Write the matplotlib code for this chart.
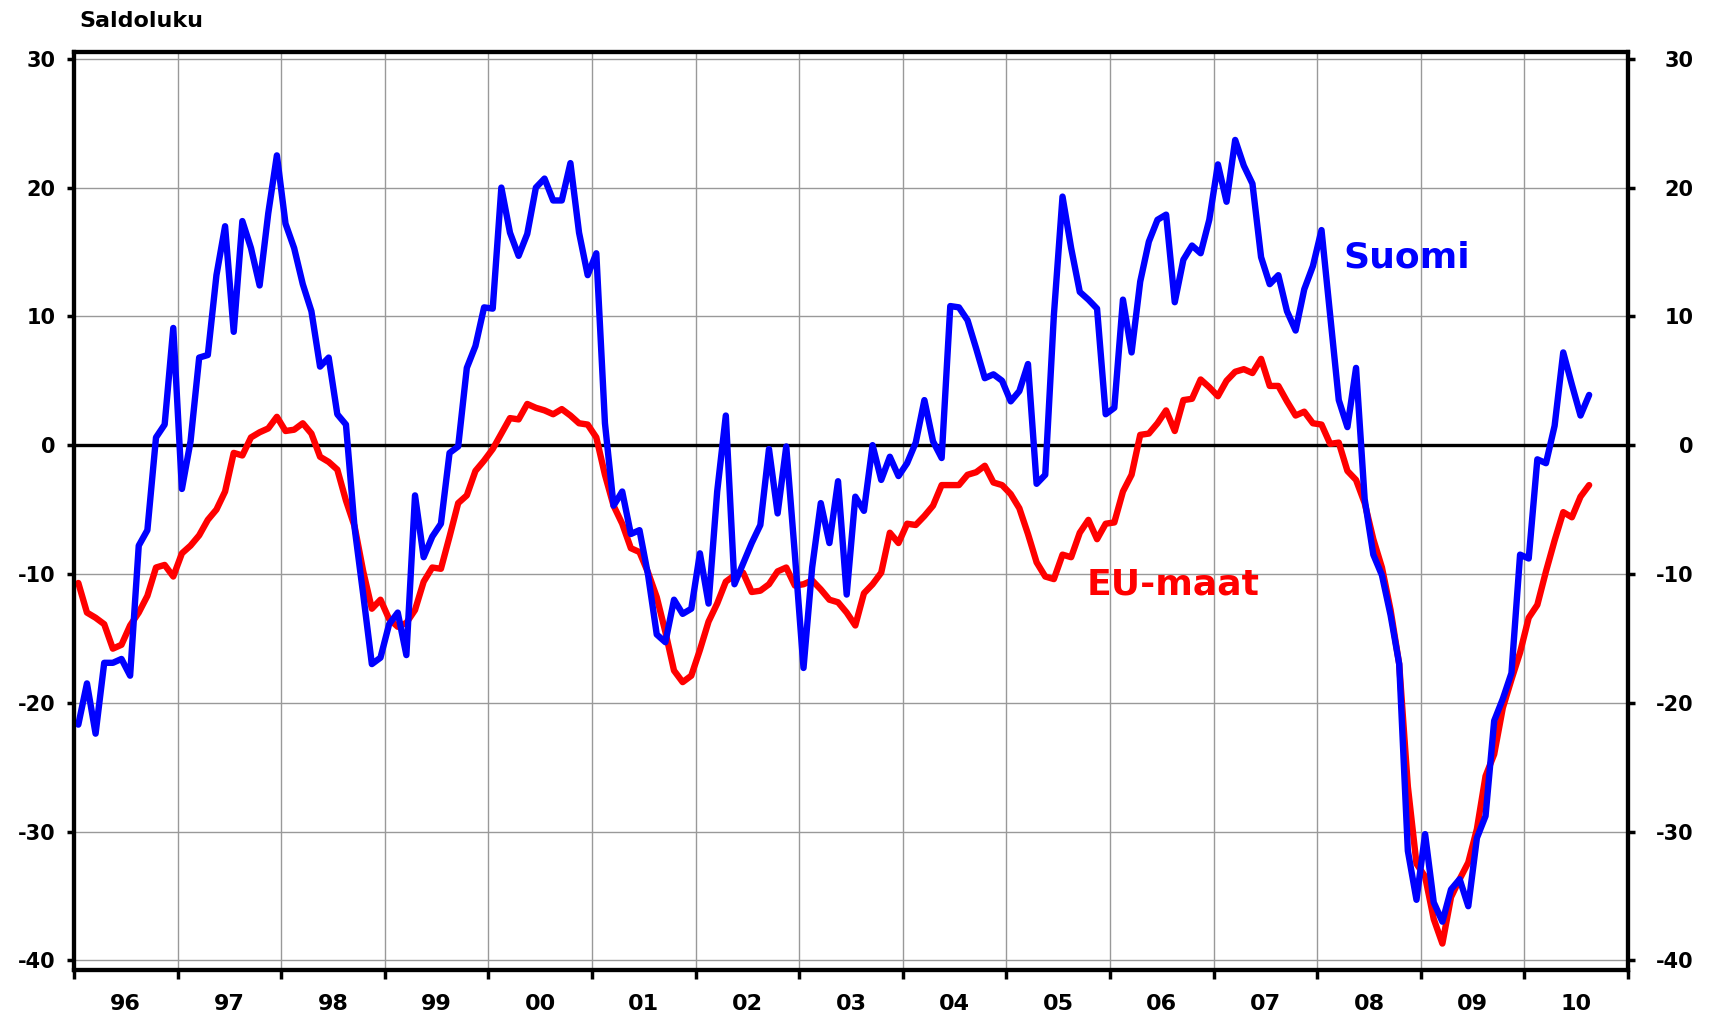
import numpy as np
import matplotlib.pyplot as plt

plt.rcParams['font.family'] = ['DejaVu Sans']
plt.rcParams['axes.unicode_minus'] = False

# saldoluku, kuukausittain 1/1996 - 8/2010
suomi = [
    -21.7, -18.5, -22.4, -16.9, -16.9, -16.6, -17.9, -7.8, -6.6, 0.6, 1.6, 9.1,      # 96
    -3.4, 0.3, 6.8, 7.0, 13.2, 17.0, 8.8, 17.4, 15.3, 12.4, 18.0, 22.5,              # 97
    17.2, 15.3, 12.5, 10.4, 6.1, 6.8, 2.4, 1.6, -6.4, -11.6, -17.0, -16.5,           # 98
    -13.9, -13.0, -16.3, -3.9, -8.7, -7.1, -6.1, -0.6, -0.1, 6.0, 7.7, 10.7,         # 99
    10.6, 20.0, 16.5, 14.7, 16.4, 20.0, 20.7, 19.0, 19.0, 21.9, 16.5, 13.2,          # 00
    14.9, 1.7, -4.7, -3.6, -6.9, -6.6, -10.1, -14.7, -15.3, -12.0, -13.1, -12.7,     # 01
    -8.4, -12.3, -3.6, 2.3, -10.8, -9.2, -7.6, -6.2, -0.3, -5.3, -0.1, -8.5,         # 02
    -17.3, -9.5, -4.5, -7.6, -2.8, -11.6, -4.0, -5.1, 0.0, -2.7, -0.9, -2.4,         # 03
    -1.4, 0.2, 3.5, 0.3, -1.0, 10.8, 10.7, 9.7, 7.5, 5.2, 5.5, 5.0,                  # 04
    3.4, 4.2, 6.3, -3.0, -2.3, 10.1, 19.3, 15.3, 11.9, 11.3, 10.6, 2.4,              # 05
    2.9, 11.3, 7.2, 12.7, 15.8, 17.5, 17.9, 11.1, 14.4, 15.5, 14.9, 17.5,            # 06
    21.8, 18.9, 23.7, 21.7, 20.3, 14.6, 12.5, 13.2, 10.4, 8.9, 12.1, 13.9,           # 07
    16.7, 10.1, 3.5, 1.4, 6.0, -4.2, -8.5, -10.1, -13.2, -17.0, -31.5, -35.3,        # 08
    -30.2, -35.5, -37.0, -34.5, -33.7, -35.8, -30.5, -28.8, -21.4, -19.7, -17.7, -8.5,  # 09
    -8.8, -1.1, -1.4, 1.5, 7.2, 4.7, 2.3, 3.9,                                       # 10
]

eu_maat = [
    -10.7, -13.0, -13.4, -13.9, -15.8, -15.5, -14.0, -13.0, -11.7, -9.5, -9.3, -10.2,
    -8.4, -7.8, -7.0, -5.8, -5.0, -3.6, -0.6, -0.8, 0.6, 1.0, 1.3, 2.2,
    1.1, 1.2, 1.7, 0.9, -0.9, -1.3, -1.9, -4.3, -6.3, -9.8, -12.7, -12.0,
    -13.5, -14.1, -13.8, -12.8, -10.6, -9.5, -9.6, -7.1, -4.5, -3.9, -2.0, -1.2,
    -0.3, 0.9, 2.1, 2.0, 3.2, 2.9, 2.7, 2.4, 2.8, 2.3, 1.7, 1.6,
    0.6, -2.3, -4.7, -6.1, -8.0, -8.3, -9.9, -11.8, -14.5, -17.5, -18.4, -17.9,
    -15.9, -13.7, -12.3, -10.6, -10.1, -9.9, -11.4, -11.3, -10.8, -9.8, -9.5, -10.9,
    -10.8, -10.5, -11.2, -12.0, -12.2, -13.0, -14.0, -11.5, -10.8, -9.9, -6.8, -7.6,
    -6.1, -6.2, -5.5, -4.7, -3.1, -3.1, -3.1, -2.3, -2.1, -1.6, -2.9, -3.1,
    -3.8, -4.9, -6.9, -9.1, -10.2, -10.4, -8.5, -8.7, -6.8, -5.8, -7.3, -6.1,
    -6.0, -3.6, -2.3, 0.8, 0.9, 1.7, 2.7, 1.1, 3.5, 3.6, 5.1, 4.5,
    3.8, 5.0, 5.7, 5.9, 5.6, 6.7, 4.6, 4.6, 3.4, 2.3, 2.6, 1.7,
    1.6, 0.1, 0.2, -2.0, -2.7, -4.5, -7.3, -9.5, -12.8, -17.0, -26.5, -32.5,
    -33.5, -36.8, -38.7, -35.1, -33.7, -32.4, -29.8, -25.7, -24.0, -20.4, -18.2, -16.1,
    -13.4, -12.4, -9.8, -7.4, -5.2, -5.6, -4.0, -3.1,
]

years = ['96', '97', '98', '99', '00', '01', '02', '03', '04', '05', '06', '07', '08', '09', '10']
yticks = [30, 20, 10, 0, -10, -20, -30, -40]

fig = plt.figure(figsize=(17.09, 10.16), dpi=100)
ax = fig.add_axes([0.0433, 0.0453, 0.9093, 0.9038])
ax2 = ax.twinx()

nmonths = 12 * len(years)
ax.set_xlim(0, nmonths)
ax.set_ylim(-40.75, 30.55)
ax2.set_ylim(-40.75, 30.55)

# ruudukko
for x in np.arange(12, nmonths, 12):
    ax.axvline(x, color='#999999', lw=1.0, zorder=1)
for y in yticks:
    ax.axhline(y, color='#999999', lw=1.0, zorder=1)
ax.axhline(0, color='black', lw=2.4, zorder=2)

ax.plot(np.arange(len(eu_maat)) + 0.5, eu_maat, color='#ff0000', lw=4.6,
        solid_joinstyle='round', solid_capstyle='round', zorder=3)
ax.plot(np.arange(len(suomi)) + 0.5, suomi, color='#0000ff', lw=4.6,
        solid_joinstyle='round', solid_capstyle='round', zorder=4)

ax.text(147.0, 13.8, 'Suomi', color='#0000ff', fontsize=26, fontweight='bold',
        ha='left', va='baseline', zorder=5)
ax.text(117.3, -11.6, 'EU-maat', color='#ff0000', fontsize=26, fontweight='bold',
        ha='left', va='baseline', zorder=5)

# x-akseli: viivat vuodenvaihteissa, vuosiluvut keskellä
ax.set_xticks(np.arange(0, nmonths + 1, 12))
ax.set_xticklabels([])
ax.set_xticks(np.arange(6, nmonths, 12), minor=True)
ax.set_xticklabels(years, minor=True, fontsize=16, fontweight='bold')
ax.tick_params(axis='x', which='major', direction='out', length=6.5, width=2.5)
ax.tick_params(axis='x', which='minor', length=0, pad=17)

ax.set_yticks(yticks)
ax.set_yticklabels([str(v) for v in yticks], fontsize=15, fontweight='bold')
ax.tick_params(axis='y', direction='out', length=5, width=2.5, pad=8.5)

ax2.set_yticks(yticks)
ax2.set_yticklabels([str(v) for v in yticks], fontsize=15, fontweight='bold')
ax2.tick_params(axis='y', direction='out', length=5, width=2.5, pad=42)
for lab in ax2.get_yticklabels():
    lab.set_horizontalalignment('right')

for a in (ax, ax2):
    for s in a.spines.values():
        s.set_linewidth(3.0)
        s.set_color('black')

fig.text(79 / 1709, 1 - 27.3 / 1016, 'Saldoluku', fontsize=16, fontweight='bold',
         ha='left', va='baseline')

fig.savefig('out.png', dpi=100)
